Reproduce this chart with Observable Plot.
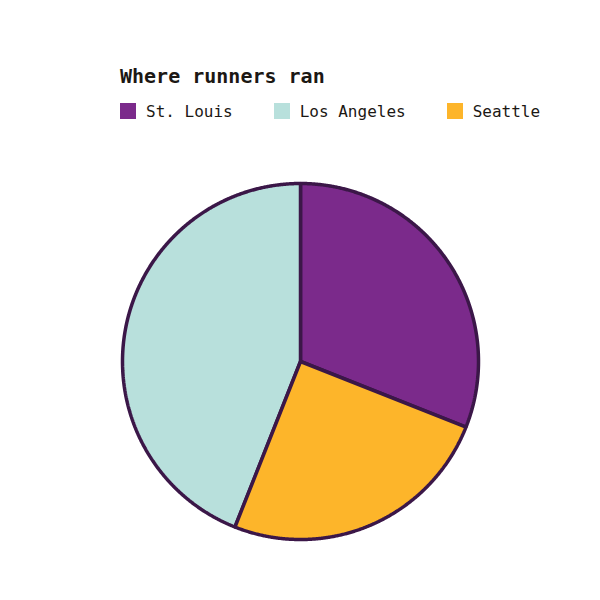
<!DOCTYPE html>
<html>
<head>
<meta charset="utf-8">
<script src="https://cdn.jsdelivr.net/npm/d3@7"></script>
<script src="https://cdn.jsdelivr.net/npm/@observablehq/plot@0.6"></script>
<style>
  html, body { margin: 0; padding: 0; background: #fff; }
  #wrap { position: relative; width: 600px; height: 600px; }
  #chart { position: absolute; left: 0; top: 0; }
  #title { position: absolute; left: 120px; top: 66px; font-family: "DejaVu Sans Mono", monospace; font-weight: bold; font-size: 20px; line-height: 20px; color: #1c1814; white-space: nowrap; }
  #legend { position: absolute; left: 120px; top: 99px; }
  #legend .lg-swatches { font-family: "DejaVu Sans Mono", monospace !important; font-size: 16px !important; color: #1c1814; min-height: 24px !important; margin: 0 !important; }
  #legend .lg-swatch { margin-right: 41px !important; }
  #legend .lg-swatch > svg { margin-right: 10px !important; }
</style>
</head>
<body>
<div id="wrap">
  <div id="chart"></div>
  <div id="title">Where runners ran</div>
  <div id="legend"></div>
</div>
<script>
const categories = ["St. Louis", "Los Angeles", "Seattle"];
const runners = [31, 44, 25];
const colors = ["#7b2a8b", "#b8e0dc", "#fdb52a"];
const sliceOrder = ["St. Louis", "Seattle", "Los Angeles"];
const title = "Where runners ran";

const data = categories.map((c, i) => ({city: c, value: runners[i]}));
const arcs = d3.pie()
  .value(d => d.value)
  .sort((a, b) => sliceOrder.indexOf(a.city) - sliceOrder.indexOf(b.city))(data);

const pts = [];
for (const a of arcs) {
  const city = a.data.city;
  pts.push({city, x: 0, y: 0});
  const n = Math.max(2, Math.ceil((a.endAngle - a.startAngle) / 0.005));
  for (let k = 0; k <= n; k++) {
    const t = a.startAngle + (a.endAngle - a.startAngle) * k / n;
    pts.push({city, x: Math.sin(t), y: Math.cos(t)});
  }
  pts.push({city, x: 0, y: 0});
}

const colorScale = {domain: categories, range: colors};

const chart = Plot.plot({
  width: 600,
  height: 600,
  marginLeft: 122,
  marginRight: 122,
  marginTop: 183,
  marginBottom: 61,
  x: {axis: null, domain: [-1, 1]},
  y: {axis: null, domain: [-1, 1]},
  color: colorScale,
  marks: [
    Plot.line(pts, {x: "x", y: "y", z: "city", fill: "city", stroke: "#3b1748", strokeWidth: 3.5, strokeLinejoin: "miter"})
  ]
});
document.getElementById("chart").appendChild(chart);

const legend = Plot.legend({color: colorScale, legend: "swatches", swatchSize: 16, className: "lg"});
document.getElementById("legend").appendChild(legend);
document.getElementById("title").textContent = title;
</script>
</body>
</html>
